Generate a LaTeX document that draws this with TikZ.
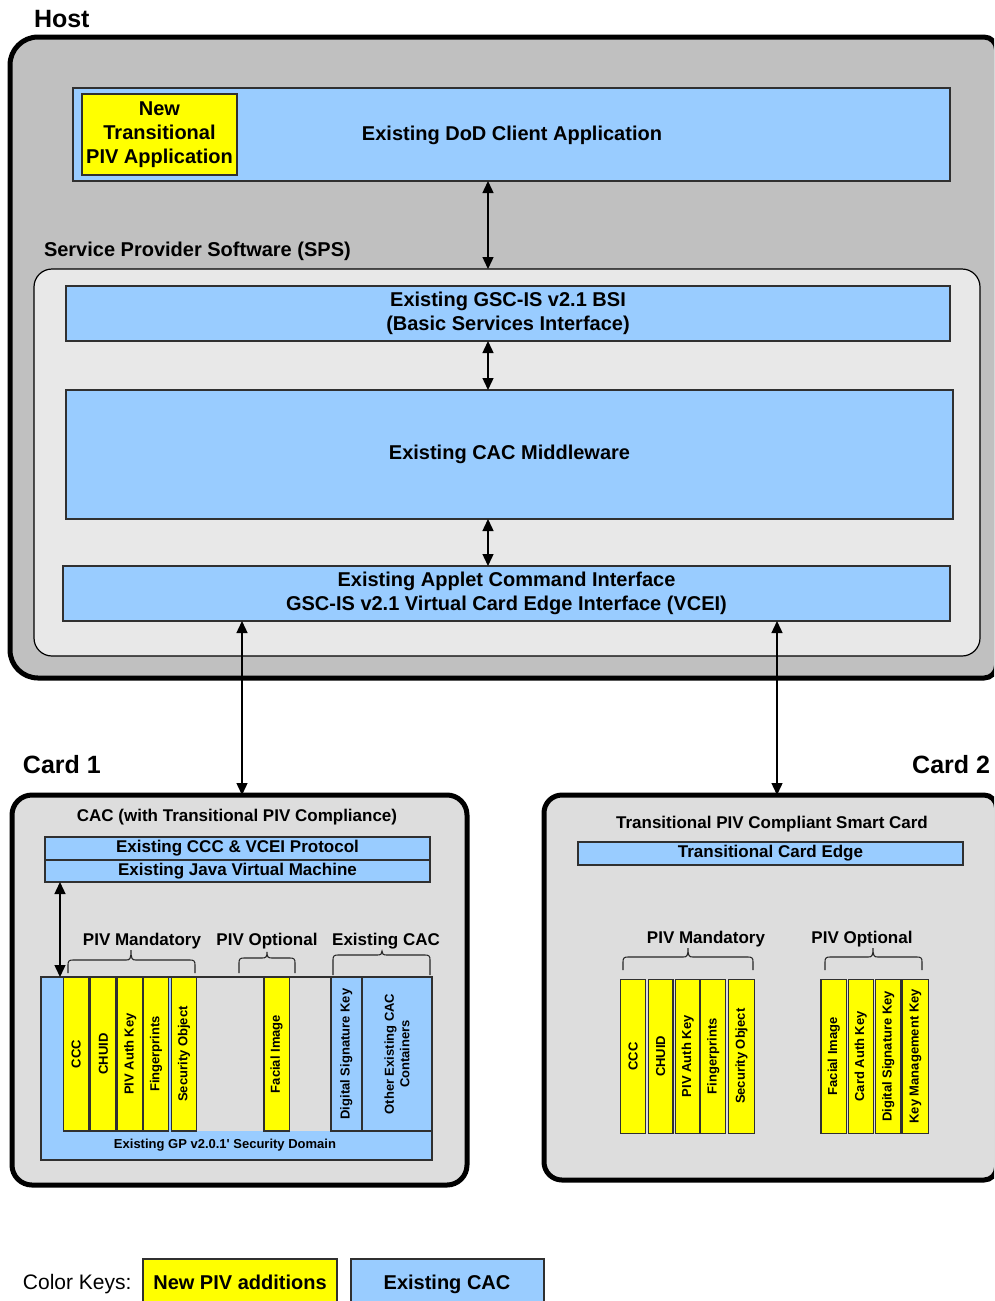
\documentclass[tikz,border=0pt]{standalone}
\usepackage{fontspec}
\setmainfont{Liberation Sans}
\usetikzlibrary{arrows.meta}

\definecolor{hostgray}{HTML}{C0C0C0}
\definecolor{spsgray}{HTML}{E8E8E8}
\definecolor{cardgray}{HTML}{DDDDDD}
\definecolor{cacblue}{HTML}{99CCFF}
\definecolor{pivyellow}{HTML}{FFFF00}
\definecolor{edgegray}{HTML}{303030}

% font sizes (1pt = 1 drawing unit)
\newcommand\txtHead{\fontsize{25}{30}\selectfont\bfseries}
\newcommand\txtMain{\fontsize{20}{24}\selectfont\bfseries}
\newcommand\txtPlain{\fontsize{21}{25}\selectfont}
\newcommand\txtCard{\fontsize{17}{20}\selectfont\bfseries}
\newcommand\txtCol{\fontsize{13}{15.5}\selectfont\bfseries}

\tikzset{
  boxbase/.style={draw=edgegray, line width=1.2pt, inner sep=0pt, outer sep=0pt, align=center},
  bluebox/.style={boxbase, fill=cacblue},
  yellowbox/.style={boxbase, fill=pivyellow},
  hostframe/.style={draw=black, line width=5pt, fill=hostgray},
  cardframe/.style={draw=black, line width=5pt, fill=cardgray},
  spsbox/.style={draw=black, line width=1.2pt, fill=spsgray, rounded corners=18pt, inner sep=0pt, outer sep=0pt},
  cardbox/.style={draw=black, line width=5pt, fill=cardgray, rounded corners=20pt, inner sep=0pt, outer sep=0pt},
  colbox/.style={draw=edgegray, line width=1.4pt, inner sep=0pt, outer sep=0pt, rotate=90, align=center, font=\txtCol},
  dbl/.style={{Triangle[length=12pt,width=11pt]}-{Triangle[length=12pt,width=11pt]}, line width=1.4pt},
  bracepath/.style={line width=1.1pt, draw=black!85},
  lbl/.style={inner sep=0pt, outer sep=0pt}
}

% rectangle node given by its corners: style, name, x1, y1, x2, y2, text
\newcommand\boxat[7]{%
  \node[#1, minimum width={(#5-#3)*1pt}, minimum height={(#6-#4)*1pt}]
    (#2) at ({(#3+#5)/2},{(#4+#6)/2}) {#7};}
% upright column with text reading bottom to top: fill, name, x1, y1, x2, y2, text
\newcommand\colat[7]{%
  \node[colbox, fill=#1, minimum width={(#6-#4)*1pt}, minimum height={(#5-#3)*1pt}]
    (#2) at ({(#3+#5)/2},{(#4+#6)/2}) {#7};}
% frame with its own corner radius on the left and on the right:
% style, x1, y1, x2, y2, left radius, right radius
\newcommand\frameat[7]{%
  \path[#1] ({#2},{#3+#6}) .. controls ({#2},{#3+#6*0.448}) and ({#2+#6*0.448},{#3}) .. ({#2+#6},{#3})
    -- ({#4-#7},{#3}) .. controls ({#4-#7*0.448},{#3}) and ({#4},{#3+#7*0.448}) .. ({#4},{#3+#7})
    -- ({#4},{#5-#7}) .. controls ({#4},{#5-#7*0.448}) and ({#4-#7*0.448},{#5}) .. ({#4-#7},{#5})
    -- ({#2+#6},{#5}) .. controls ({#2+#6*0.448},{#5}) and ({#2},{#5-#6*0.448}) .. ({#2},{#5-#6})
    -- cycle;}
% brace opening downwards: x left, x tip, x right, y of bar, y of feet, y of tip
\newcommand\upbrace[6]{%
  \draw[bracepath] ({#1},{#5}) -- ({#1},{#4+5})
    .. controls ({#1},{#4+1}) and ({#1+1},{#4}) .. ({#1+5},{#4})
    -- ({#2-5},{#4})
    .. controls ({#2-1},{#4}) and ({#2},{#4-1}) .. ({#2},{#6})
    .. controls ({#2},{#4-1}) and ({#2+1},{#4}) .. ({#2+5},{#4})
    -- ({#3-5},{#4})
    .. controls ({#3-1},{#4}) and ({#3},{#4+1}) .. ({#3},{#4+5})
    -- ({#3},{#5});}

\begin{document}
\begin{tikzpicture}[x=1pt,y=-1pt]
\clip (0,0) rectangle (994,1301);
\fill[white] (0,0) rectangle (994,1301);

% ---------------- Host ----------------
\node[lbl, font=\txtHead, anchor=base west] (hostlbl) at (34,27) {Host};
\frameat{hostframe}{10}{37}{996.5}{678}{28}{12.5}

\boxat{bluebox}{client}{73}{88}{950}{181}{}
\node[lbl, font=\txtMain, anchor=base] (clienttxt) at (512,140) {Existing DoD Client Application};
\boxat{yellowbox, font=\txtMain}{newpiv}{82}{94}{237}{175}{New\\Transitional\\PIV Application}

\node[lbl, font=\txtMain, anchor=base west] (spslbl) at (44,256) {Service Provider Software (SPS)};
\boxat{spsbox}{sps}{34}{269}{980}{656}{}

\boxat{bluebox, font=\txtMain}{bsi}{66}{286}{950}{341}{Existing GSC-IS v2.1 BSI\\(Basic Services Interface)}
\boxat{bluebox, font=\txtMain}{mw}{66}{390}{953}{519}{Existing CAC Middleware}
\boxat{bluebox, font=\txtMain}{aci}{63}{566}{950}{621}{Existing Applet Command Interface\\GSC-IS v2.1 Virtual Card Edge Interface (VCEI)}

\coordinate (axA) at (488,0);
\draw[dbl] (client.south -| axA) -- (sps.north -| axA);
\draw[dbl] (bsi.south -| axA) -- (mw.north -| axA);
\draw[dbl] (mw.south -| axA) -- (aci.north -| axA);

% ---------------- Card 1 ----------------
\node[lbl, font=\txtHead, anchor=base west] (card1lbl) at (23,773) {Card 1};
\boxat{cardbox}{card1}{12}{795}{467}{1185}{}
\node[lbl, font=\txtCard, anchor=base] (c1title) at (237,821.7) {CAC (with Transitional PIV Compliance)};
\boxat{bluebox, font=\txtCard}{cccv}{45}{837}{430}{860}{Existing CCC \& VCEI Protocol}
\boxat{bluebox, font=\txtCard}{jvm}{45}{860}{430}{882}{Existing Java Virtual Machine}

\node[lbl, font=\txtCard, anchor=base] (c1mand) at (142,945.7) {PIV Mandatory};
\node[lbl, font=\txtCard, anchor=base] (c1opt) at (267,945.7) {PIV Optional};
\node[lbl, font=\txtCard, anchor=base] (c1cac) at (386,945.7) {Existing CAC};
\upbrace{68}{131}{195}{960}{973}{950}
\upbrace{239}{267}{295}{958}{973}{952}
\upbrace{333}{382}{430}{955}{975}{951}

\boxat{bluebox}{gp}{41}{977}{432}{1160}{}
\fill[cardgray] (197,977.7) rectangle (330,1131);
\node[lbl, font=\txtCol, anchor=base] (gptxt) at (225,1148.3) {Existing GP v2.0.1\textquotesingle{} Security Domain};

\colat{pivyellow}{c1ccc}{63.3}{977}{89}{1131}{CCC}
\colat{pivyellow}{c1chuid}{90.7}{977}{116}{1131}{CHUID}
\colat{pivyellow}{c1auth}{117.7}{977}{142.7}{1131}{PIV Auth Key}
\colat{pivyellow}{c1fing}{143.7}{977}{168.3}{1131}{Fingerprints}
\colat{pivyellow}{c1sec}{171.3}{977}{196.7}{1131}{Security Object}
\colat{pivyellow}{c1face}{264}{977}{289.3}{1131}{Facial Image}
\colat{cacblue}{c1dsig}{331}{977}{361.7}{1131}{Digital Signature Key}
\colat{cacblue}{c1other}{362.3}{977}{431.7}{1131}{Other Existing CAC\\Containers}

\coordinate (axD) at (60,0);
\draw[dbl] (jvm.south -| axD) -- (gp.north -| axD);

% ---------------- Card 2 ----------------
\node[lbl, font=\txtHead, anchor=base east] (card2lbl) at (990,773) {Card 2};
\frameat{cardframe}{544}{795}{996.5}{1180}{18}{12.5}
\coordinate (card2top) at (544,795);
\node[lbl, font=\txtCard, anchor=base] (c2title) at (772,828.3) {Transitional PIV Compliant Smart Card};
\boxat{bluebox, font=\txtCard}{tce}{578}{842}{963}{865}{Transitional Card Edge}

\node[lbl, font=\txtCard, anchor=base] (c2mand) at (706,943.3) {PIV Mandatory};
\node[lbl, font=\txtCard, anchor=base] (c2opt) at (862,943.3) {PIV Optional};
\upbrace{623}{688}{753}{957}{970}{948}
\upbrace{825}{873}{922}{957}{970}{948}

\colat{pivyellow}{c2ccc}{620.7}{979.3}{645.7}{1133.3}{CCC}
\colat{pivyellow}{c2chuid}{648.3}{979.3}{673}{1133.3}{CHUID}
\colat{pivyellow}{c2auth}{675.3}{979.3}{700}{1133.3}{PIV Auth Key}
\colat{pivyellow}{c2fing}{700.7}{979.3}{725.7}{1133.3}{Fingerprints}
\colat{pivyellow}{c2sec}{728.7}{979.3}{754.3}{1133.3}{Security Object}
\colat{pivyellow}{c2face}{821}{979.3}{846.7}{1133.3}{Facial Image}
\colat{pivyellow}{c2cauth}{848.3}{979.3}{873.3}{1133.3}{Card Auth Key}
\colat{pivyellow}{c2dsig}{875.7}{979.3}{901}{1133.3}{Digital Signature Key}
\colat{pivyellow}{c2kmk}{902.7}{979.3}{928.3}{1133.3}{Key Management Key}

% ---------------- host to cards ----------------
\coordinate (axB) at (242,0);
\coordinate (axC) at (777,0);
\draw[dbl] (aci.south -| axB) -- (card1.north -| axB);
\draw[dbl] (aci.south -| axC) -- (card2top -| axC);

% ---------------- colour keys ----------------
\node[lbl, font=\txtPlain, anchor=base west] (keylbl) at (23,1289) {Color Keys:};
\boxat{yellowbox}{keynew}{143}{1259}{337}{1312}{}
\node[lbl, font=\txtMain, anchor=base] (keynewtxt) at (240,1289) {New PIV additions};
\boxat{bluebox}{keycac}{351}{1259}{544}{1312}{}
\node[lbl, font=\txtMain, anchor=base] (keycactxt) at (447,1289) {Existing CAC};
\end{tikzpicture}
\end{document}
